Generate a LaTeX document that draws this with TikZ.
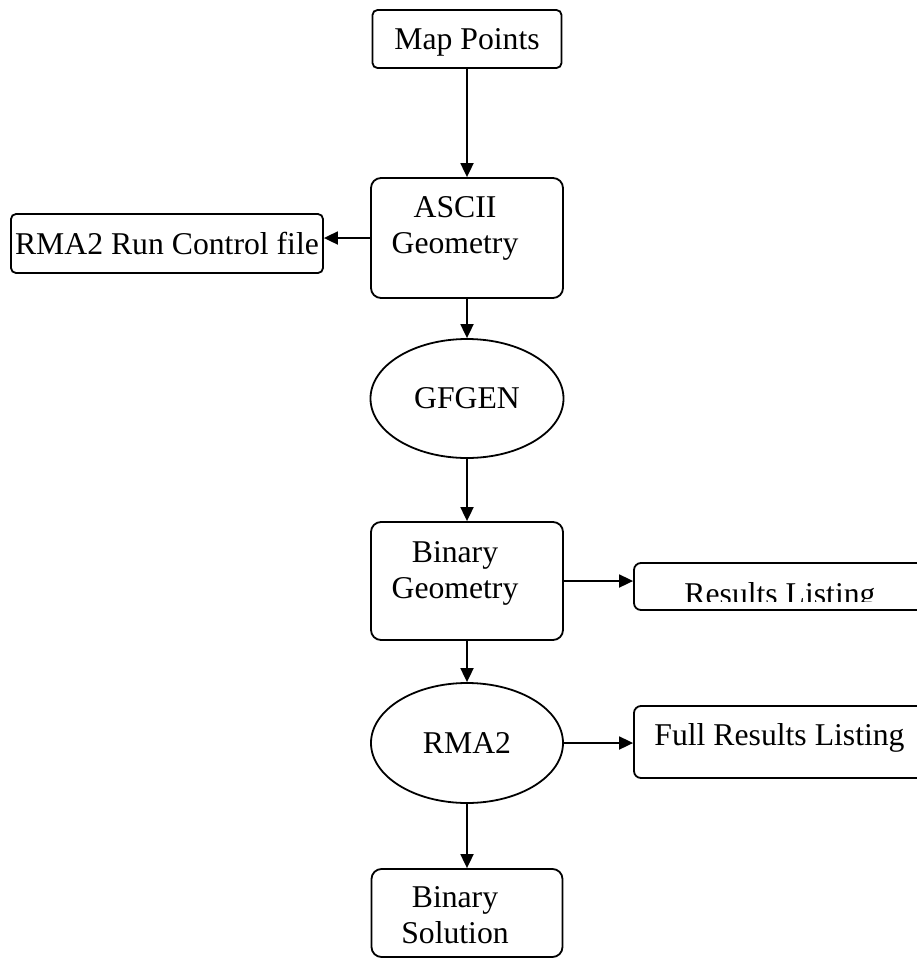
\documentclass[tikz,border=0pt]{standalone}
\usepackage{fontspec}
\setmainfont{Liberation Serif}
\usetikzlibrary{shapes.geometric,arrows.meta}

\begin{document}
\begin{tikzpicture}[x=0.5pt,y=-0.5pt,
  box/.style={draw,rounded corners=5pt,inner sep=1pt,align=center,line width=0.9pt},
  oval/.style={draw,ellipse,inner sep=0pt,line width=0.9pt},
  txt/.style={align=center,inner sep=0pt},
  flow/.style={-{Triangle[length=7pt,width=6.5pt]},line width=0.9pt},
  font=\fontsize{15.85}{18}\selectfont]
  \useasboundingbox (0,0) rectangle (917,960);
  \clip (0,0) rectangle (917,960);
  % main column
  \node[box,rounded corners=2.5pt,minimum width=94.5pt,minimum height=29pt,text depth=0pt] (map) at (467,39) {Map Points};
  \node[box,minimum width=96pt,minimum height=60pt,
    label={[txt,xshift=-6pt,yshift=5pt]center:ASCII\\Geometry}] (ascii) at (467,238) {};
  \node[oval,minimum width=96.5pt,minimum height=59.5pt] (gfgen) at (467,398.5) {GFGEN};
  \node[box,minimum width=96pt,minimum height=59pt,
    label={[txt,xshift=-6pt,yshift=4pt]center:Binary\\Geometry}] (bingeo) at (467,581) {};
  \node[oval,minimum width=96pt,minimum height=60pt] (rma) at (467,743) {RMA2};
  \node[box,minimum width=95.5pt,minimum height=44pt,
    label={[txt,xshift=-6pt,yshift=-1pt]center:Binary\\Solution}] (binsol) at (467,913) {};
  % side boxes
  \node[box,rounded corners=2.5pt,minimum width=156pt,minimum height=29.5pt] (ctrl) at (167,243.5) {RMA2 Run Control file};
  \node[box,rounded corners=3.5pt,minimum width=145.5pt,minimum height=23.5pt] (results) at (779.5,586.5) {};
  \begin{scope}
    \clip (634,563) rectangle (917,601);
    \node[anchor=base] (resultstext) at (780,604) {Results Listing};
  \end{scope}
  \node[box,rounded corners=3.5pt,minimum width=145.5pt,minimum height=36pt,
    label={[txt,yshift=2.25pt]center:Full Results Listing}] (full) at (779.5,742) {};
  % connectors
  \draw[flow] (map) -- (ascii);
  \draw[flow] (ascii.west) -- (ascii.west -| ctrl.east);
  \draw[flow] (ascii) -- (gfgen);
  \draw[flow] (gfgen) -- (bingeo);
  \draw[flow] (bingeo.east) -- (bingeo.east -| results.west);
  \draw[flow] (bingeo) -- (rma);
  \draw[flow] (rma.east) -- (rma.east -| full.west);
  \draw[flow] (rma) -- (binsol);
\end{tikzpicture}
\end{document}
